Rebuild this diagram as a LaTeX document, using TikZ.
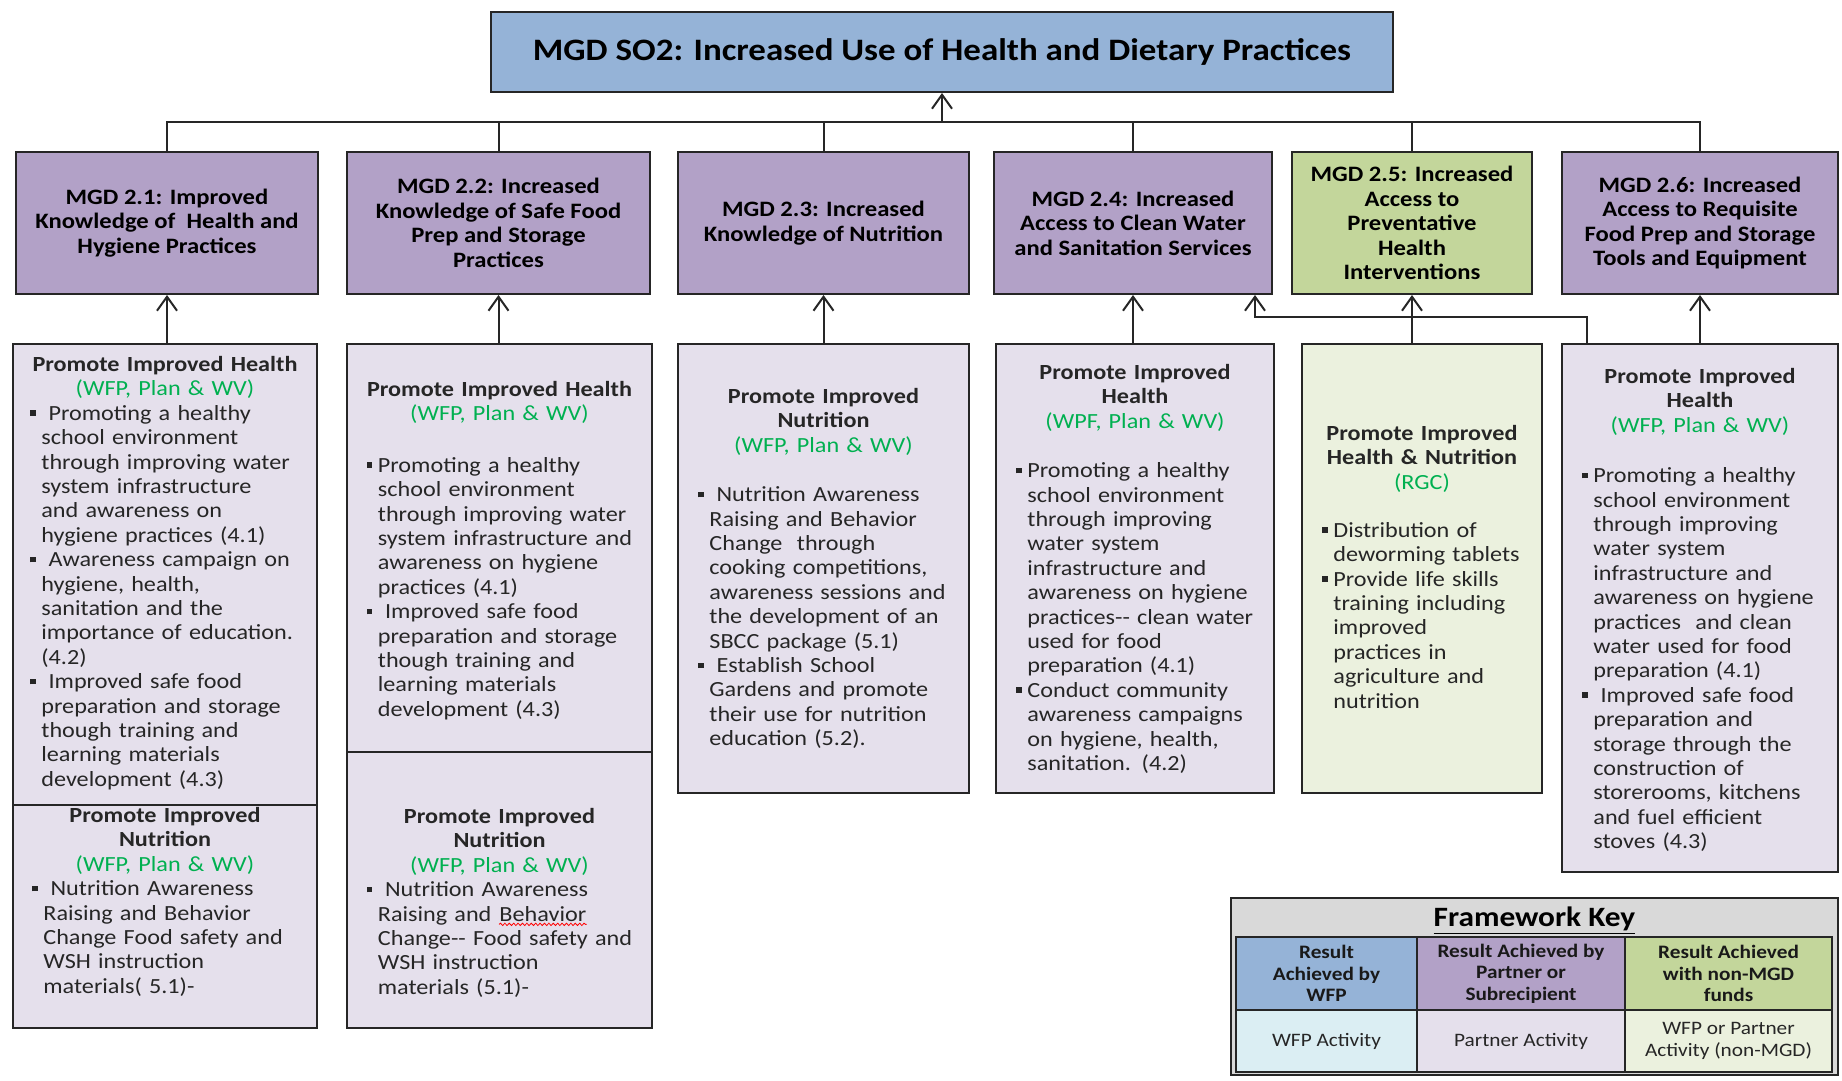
\documentclass[tikz,border=0pt]{standalone}
\usepackage{fontspec}
\setmainfont{Carlito}[FakeStretch=1.12]
\usepackage{tikz}
\usetikzlibrary{arrows.meta}
\usetikzlibrary{positioning,decorations.pathmorphing}

\definecolor{soblue}{HTML}{95B3D7}
\definecolor{mgdpurple}{HTML}{B2A1C7}
\definecolor{mgdgreen}{HTML}{C3D69B}
\definecolor{actpurple}{HTML}{E5E0EC}
\definecolor{actgreen}{HTML}{EBF1DE}
\definecolor{actblue}{HTML}{DBEEF3}
\definecolor{keygray}{HTML}{D9D9D9}
\definecolor{orggreen}{HTML}{00B050}
\definecolor{boxline}{HTML}{262626}

\newcommand{\grn}[1]{{\color{orggreen}#1}}
\newcommand{\sq}{\makebox[5.7pt][l]{\raisebox{2.2pt}{\rule{2.8pt}{2.8pt}}}}
\newcommand{\wavy}[1]{\tikz[baseline=(wv.base)]{\node[inner sep=0pt] (wv) {#1};
  \draw[red, line width=.4pt, decorate, decoration={snake, amplitude=.6pt, segment length=2.2pt}]
    ([yshift=-1.6pt]wv.base west) -- ([yshift=-1.6pt]wv.base east);}}

\tikzset{
  box/.style={draw=boxline, line width=1pt, inner sep=0pt},
  sobox/.style={box, fill=soblue, minimum width=451pt, minimum height=40pt,
    font=\fontsize{15.6}{18}\selectfont\bfseries},
  mgd/.style={box, fill=mgdpurple, minimum height=71pt, align=center,
    font=\fontsize{11}{12.3}\selectfont\bfseries},
  mgdg/.style={mgd, fill=mgdgreen},
  act/.style={box, fill=actpurple},
  actg/.style={box, fill=actgreen},
  acttext/.style={inner sep=0pt, text=black!85, font=\fontsize{10.8}{12.2}\selectfont},
  link/.style={line width=1pt, draw=boxline},
  uplink/.style={link, -{Straight Barb[length=7pt,width=10pt]}},
  keyhead/.style={box, line width=.8pt, align=center, text=black!90,
    font=\fontsize{9.5}{10.8}\selectfont\bfseries},
  keycell/.style={box, line width=.8pt, align=center, text=black!85,
    font=\fontsize{9.5}{10.8}\selectfont}
}

\begin{document}
\begin{tikzpicture}[x=0.5pt, y=-0.5pt]
  \useasboundingbox (0,0) rectangle (1842,1081);

  % strategic objective
  \node[sobox] (so2) at (942,52) {MGD SO2: Increased Use of Health and Dietary Practices};

  % results
  \node[mgd, minimum width=151pt] (m21) at (167,223) {MGD 2.1: Improved\\Knowledge of\ \ Health and\\Hygiene Practices};
  \node[mgd, minimum width=151.5pt] (m22) at (498.5,223) {MGD 2.2: Increased\\Knowledge of Safe Food\\Prep and Storage\\Practices};
  \node[mgd, minimum width=145.5pt] (m23) at (823.5,223) {MGD 2.3: Increased\\Knowledge of Nutrition};
  \node[mgd, minimum width=139pt] (m24) at (1133,223) {MGD 2.4: Increased\\Access to Clean Water\\and Sanitation Services};
  \node[mgdg, minimum width=120pt] (m25) at (1412,223) {MGD 2.5: Increased\\Access to\\Preventative\\Health\\Interventions};
  \node[mgd, minimum width=138pt] (m26) at (1700,223) {MGD 2.6: Increased\\Access to Requisite\\Food Prep and Storage\\Tools and Equipment};

  % activity boxes
  \node[act, minimum width=152pt, minimum height=230.5pt] (a21h) at (165,574.5) {};
  \node[act, minimum width=152pt, minimum height=111.5pt] (a21n) at (165,916.5) {};
  \node[act, minimum width=152.5pt, minimum height=204pt] (a22h) at (499.5,548) {};
  \node[act, minimum width=152.5pt, minimum height=138pt] (a22n) at (499.5,890) {};
  \node[act, minimum width=145.5pt, minimum height=224.5pt] (a23) at (823.5,568.5) {};
  \node[act, minimum width=139pt, minimum height=224.5pt] (a24) at (1135,568.5) {};
  \node[actg, minimum width=120pt, minimum height=224.5pt] (a25) at (1422,568.5) {};
  \node[act, minimum width=138pt, minimum height=264pt] (a26) at (1700,608) {};

  \node[acttext, text width=135pt, below=6.5pt of a21h.north] (a21htxt) {%
    {\centering\textbf{Promote Improved Health}\\\grn{(WFP, Plan \& WV)}\par}%
    \begin{tabular}[t]{@{}l@{}l@{}}
      \sq & \ Promoting a healthy\\
          & school environment\\
          & through improving water\\
          & system infrastructure\\
          & and awareness on\\
          & hygiene practices (4.1)\\
      \sq & \ Awareness campaign on\\
          & hygiene, health,\\
          & sanitation and the\\
          & importance of education.\\
          & (4.2)\\
      \sq & \ Improved safe food\\
          & preparation and storage\\
          & though training and\\
          & learning materials\\
          & development (4.3)
    \end{tabular}};
  \node[acttext, text width=133pt, below=1.5pt of a21n.north] (a21ntxt) {%
    {\centering\textbf{Promote Improved\\Nutrition}\\\grn{(WFP, Plan \& WV)}\par}%
    \begin{tabular}[t]{@{}l@{}l@{}}
      \sq & \ Nutrition Awareness\\
          & Raising and Behavior\\
          & Change Food safety and\\
          & WSH instruction\\
          & materials( 5.1)-
    \end{tabular}};
  \node[acttext, text width=133pt, below=19pt of a22h.north] (a22htxt) {%
    {\centering\textbf{Promote Improved Health}\\\grn{(WFP, Plan \& WV)}\par}\vspace{13.5pt}%
    \begin{tabular}[t]{@{}l@{}l@{}}
      \sq & Promoting a healthy\\
          & school environment\\
          & through improving water\\
          & system infrastructure and\\
          & awareness on hygiene\\
          & practices (4.1)\\
      \sq & \ Improved safe food\\
          & preparation and storage\\
          & though training and\\
          & learning materials\\
          & development (4.3)
    \end{tabular}};
  \node[acttext, text width=133pt, below=28.5pt of a22n.north] (a22ntxt) {%
    {\centering\textbf{Promote Improved\\Nutrition}\\\grn{(WFP, Plan \& WV)}\par}%
    \begin{tabular}[t]{@{}l@{}l@{}}
      \sq & \ Nutrition Awareness\\
          & Raising and \wavy{Behavior}\\
          & Change-{}- Food safety and\\
          & WSH instruction\\
          & materials (5.1)-
    \end{tabular}};
  \node[acttext, text width=125.5pt, below=22.5pt of a23.north] (a23txt) {%
    {\centering\textbf{Promote Improved\\Nutrition}\\\grn{(WFP, Plan \& WV)}\par}\vspace{12.5pt}%
    \begin{tabular}[t]{@{}l@{}l@{}}
      \sq & \ Nutrition Awareness\\
          & Raising and Behavior\\
          & Change\ \ through\\
          & cooking competitions,\\
          & awareness sessions and\\
          & the development of an\\
          & SBCC package (5.1)\\
      \sq & \ Establish School\\
          & Gardens and promote\\
          & their use for nutrition\\
          & education (5.2).
    \end{tabular}};
  \node[acttext, text width=119pt, below=10.5pt of a24.north] (a24txt) {%
    {\centering\textbf{Promote Improved\\Health}\\\grn{(WPF, Plan \& WV)}\par}\vspace{12.5pt}%
    \begin{tabular}[t]{@{}l@{}l@{}}
      \sq & Promoting a healthy\\
          & school environment\\
          & through improving\\
          & water system\\
          & infrastructure and\\
          & awareness on hygiene\\
          & practices-{}- clean water\\
          & used for food\\
          & preparation (4.1)\\
      \sq & Conduct community\\
          & awareness campaigns\\
          & on hygiene, health,\\
          & sanitation. (4.2)
    \end{tabular}};
  \node[acttext, text width=100pt, below=41pt of a25.north] (a25txt) {%
    {\centering\textbf{Promote Improved\\Health \& Nutrition}\\\grn{(RGC)}\par}\vspace{11.8pt}%
    \begin{tabular}[t]{@{}l@{}l@{}}
      \sq & Distribution of\\
          & deworming tablets\\
      \sq & Provide life skills\\
          & training including\\
          & improved\\
          & practices in\\
          & agriculture and\\
          & nutrition
    \end{tabular}};
  \node[acttext, text width=118pt, below=12.5pt of a26.north] (a26txt) {%
    {\centering\textbf{Promote Improved\\Health}\\\grn{(WFP, Plan \& WV)}\par}\vspace{13pt}%
    \begin{tabular}[t]{@{}l@{}l@{}}
      \sq & Promoting a healthy\\
          & school environment\\
          & through improving\\
          & water system\\
          & infrastructure and\\
          & awareness on hygiene\\
          & practices\ \ and clean\\
          & water used for food\\
          & preparation (4.1)\\
      \sq & \ Improved safe food\\
          & preparation and\\
          & storage through the\\
          & construction of\\
          & storerooms, kitchens\\
          & and fuel efficient\\
          & stoves (4.3)
    \end{tabular}};

  % connectors
  \coordinate (bus) at (942,122);
  \draw[link] (m21.north) |- (bus) -| (m26.north);
  \foreach \m in {m22,m23,m24,m25}
    \draw[link] (\m.north) -- (\m.north |- bus);
  \draw[uplink] (bus -| so2.south) -- (so2.south);
  \foreach \a/\m in {a21h/m21,a22h/m22,a23/m23,a24/m24,a25/m25,a26/m26}
    \draw[uplink] (\m.south |- \a.north) -- (\m.south);
  \coordinate (jog) at (1255,317);
  \draw[uplink] ([xshift=13pt]a26.north west) |- (jog) -- (jog |- m24.south);

  % framework key
  \node[box, fill=keygray, minimum width=303.5pt, minimum height=88.5pt] (key) at (1534.5,986.5) {};
  \node[inner sep=0pt, font=\fontsize{14}{16}\selectfont\bfseries] (keytitle) at (1534.5,921) {\underline{Framework Key}};
  \node[keyhead, fill=soblue, minimum width=90.5pt, minimum height=36.5pt] (k1) at (1326.5,973.5) {Result\\Achieved by\\WFP};
  \node[keyhead, fill=mgdpurple, minimum width=104pt, minimum height=36.5pt] (k2) at (1521,973.5) {Result Achieved by\\Partner or\\Subrecipient};
  \node[keyhead, fill=mgdgreen, minimum width=103.5pt, minimum height=36.5pt] (k3) at (1728.5,973.5) {Result Achieved\\with non-MGD\\funds};
  \node[keycell, fill=actblue, minimum width=90.5pt, minimum height=31pt] (k4) at (1326.5,1041) {WFP Activity};
  \node[keycell, fill=actpurple, minimum width=104pt, minimum height=31pt] (k5) at (1521,1041) {Partner Activity};
  \node[keycell, fill=actgreen, minimum width=103.5pt, minimum height=31pt] (k6) at (1728.5,1041) {WFP or Partner\\Activity (non-MGD)};
\end{tikzpicture}
\end{document}
